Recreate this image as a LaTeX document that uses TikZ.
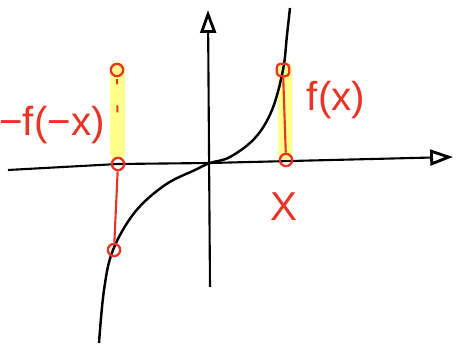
\documentclass[tikz,border=0pt]{standalone}
\usepackage{fontspec}
\setmainfont{Liberation Sans}
\usetikzlibrary{arrows.meta}
\definecolor{penred}{RGB}{232,52,36}
\definecolor{hilite}{RGB}{255,255,140}

\begin{document}
\begin{tikzpicture}[x=0.02cm,y=-0.02cm,
  axis/.style={line width=1.2pt,-{Triangle[open,length=13pt,width=9pt,line width=1.6pt]}},
  dot/.style={circle,draw=penred,line width=1.3pt,inner sep=0pt,minimum size=7pt},
  tick/.style={penred,line width=1.2pt},
  lbl/.style={text=penred,font=\fontsize{23}{27}\selectfont}]
  \useasboundingbox (0,0) rectangle (458,347);
  % highlighter strips
  \fill[hilite,rounded corners=4pt] (110,62) rectangle (125,160);
  \fill[hilite,rounded corners=4pt] (278,62) rectangle (292,160);
  % axes
  \draw[axis] (8,170) -- (118,164) -- (210,163) -- (453,157);
  \draw[axis] (210,287) -- (208,10);
  % the odd curve
  \draw[line width=1.4pt] plot[smooth,tension=0.6] coordinates {(99,343) (104,290) (113,250) (135,212) (165,185) (195,170) (210,163) (230,157) (255,138) (272,110) (283,70) (287,35) (290,8)};
  % markers
  \node[dot] (lt) at (117,70) {};
  \node[dot] (la) at (118,164) {};
  \node[dot] (lb) at (114,250) {};
  \node[dot,rectangle,rounded corners=2pt] (rt) at (283,70) {};
  \node[dot] (ra) at (286,160) {};
  \draw[tick,dash pattern=on 0pt off 1pt on 3pt off 12pt on 4pt off 60pt] (lt) -- (la);
  \draw[tick] (la) -- (lb);
  \draw[tick] (rt) -- (ra);
  % labels
  \node[lbl] (fpos) at (336,100) {f(x)};
  \node[lbl] (fneg) at (52,125) {−f(−x)};
  \node[lbl] (xval) at (284,207) {X};
\end{tikzpicture}
\end{document}
